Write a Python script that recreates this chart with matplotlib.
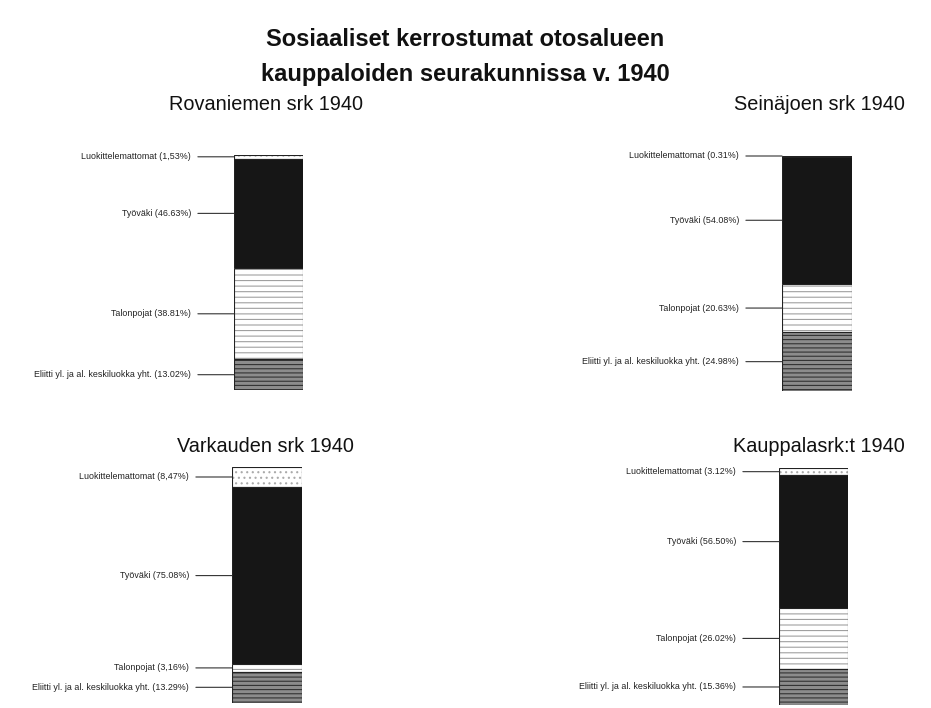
import matplotlib
matplotlib.use("Agg")
import matplotlib.pyplot as plt

plt.rcParams['font.family'] = ['Liberation Sans', 'DejaVu Sans']

categories = ["Luokittelemattomat", "Työväki", "Talonpojat",
              "Eliitti yl. ja al. keskiluokka yht."]

panel_titles = ["Rovaniemen srk 1940", "Seinäjoen srk 1940",
                "Varkauden srk 1940", "Kauppalasrk:t 1940"]

rovaniemi = [1.53, 46.63, 38.81, 13.02]
seinajoki = [0.31, 54.08, 20.63, 24.98]
varkaus = [8.47, 75.08, 3.16, 13.29]
kauppala = [3.12, 56.50, 26.02, 15.36]

rovaniemi_labels = ["1,53%", "46.63%", "38.81%", "13.02%"]
seinajoki_labels = ["0.31%", "54.08%", "20.63%", "24.98%"]
varkaus_labels = ["8,47%", "75.08%", "3,16%", "13.29%"]
kauppala_labels = ["3.12%", "56.50%", "26.02%", "15.36%"]

W, H = 931, 708
fig = plt.figure(figsize=(W / 100, H / 100), dpi=100)
fig.patch.set_facecolor('white')

fig.text(465 / W, 1 - 40 / H, "Sosiaaliset kerrostumat otosalueen",
         ha='center', va='center', fontsize=17, fontweight='bold',
         color='#111111')
fig.text(465 / W, 1 - 74 / H, "kauppaloiden seurakunnissa v. 1940",
         ha='center', va='center', fontsize=17, fontweight='bold',
         color='#111111')

# styles per category: face, hatch, hatch colour
styles = [
    ('white', '...', '#aaaaaa'),
    ('#161616', None, '#161616'),
    ('white', '---', '#a0a0a0'),
    ('#8c8c8c', '----', '#333333'),
]

plt.rcParams['hatch.linewidth'] = 0.8

# bar rectangles in pixels (x0, x1, ytop, ybottom) and title placement
panels = [
    (rovaniemi, rovaniemi_labels, (234, 303, 155, 390), (266, 105, 'center')),
    (seinajoki, seinajoki_labels, (782, 852, 156, 391), (905, 105, 'right')),
    (varkaus, varkaus_labels, (232, 302, 467, 703), (265, 446, 'center')),
    (kauppala, kauppala_labels, (779, 848, 468, 705), (905, 446, 'right')),
]

for i, (vals, labs, (x0, x1, yt, yb), (tx, ty, tha)) in enumerate(panels):
    ax = fig.add_axes([x0 / W, 1 - yb / H, (x1 - x0) / W, (yb - yt) / H])
    total = sum(vals)
    bottom = 0
    for v, lab, cat, (fc, hatch, hc) in zip(vals, labs, categories, styles):
        ax.bar(0.5, v, width=1, bottom=bottom, color=fc, edgecolor=hc,
               hatch=hatch, linewidth=0)
        ax.bar(0.5, v, width=1, bottom=bottom, fill=False,
               edgecolor='#222222', linewidth=0.8)
        mid = bottom + v / 2
        if v < 1:
            mid = bottom
        ax.annotate(f"{cat} ({lab})", xy=(0, mid), xytext=(-31, 0),
                    textcoords='offset points', ha='right', va='center',
                    fontsize=6.4, color='#222222', annotation_clip=False,
                    arrowprops=dict(arrowstyle='-', color='#333333', lw=0.8,
                                    shrinkA=3, shrinkB=0))
        bottom += v
    ax.set_xlim(0, 1)
    ax.set_ylim(total, 0)
    ax.axis('off')
    fig.text(tx / W, 1 - ty / H, panel_titles[i], ha=tha, va='center',
             fontsize=14.3, color='#111111')

fig.savefig("out.png", dpi=100, facecolor='white')
